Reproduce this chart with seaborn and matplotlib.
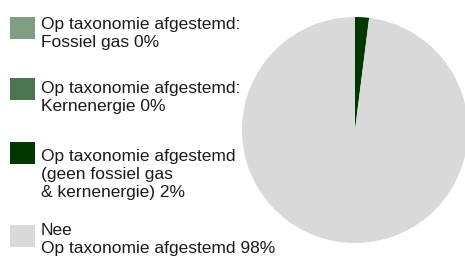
import matplotlib
matplotlib.use("Agg")
import matplotlib.pyplot as plt
from matplotlib.patches import Rectangle
import seaborn as sns

# ── Data ────────────────────────────────────────────────────────────────────
labels = [
    "Op taxonomie afgestemd:\nFossiel gas 0%",
    "Op taxonomie afgestemd:\nKernenergie 0%",
    "Op taxonomie afgestemd\n(geen fossiel gas\n& kernenergie) 2%",
    "Nee\nOp taxonomie afgestemd 98%",
]
shares = [0, 0, 2, 98]
colors = ["#7d9e80", "#4b7450", "#003800", "#d9d9d9"]

# ── Style ───────────────────────────────────────────────────────────────────
sns.set_theme(style="white")
plt.rcParams["font.family"] = ["Liberation Sans", "DejaVu Sans"]

W, H = 465, 260
fig = plt.figure(figsize=(W / 100, H / 100), dpi=100)
fig.patch.set_facecolor("white")

# --- Pie ---
ax = fig.add_axes([242 / W, 17 / H, 226 / W, 226 / H])
ax.pie(shares, colors=colors, startangle=90, counterclock=False,
       wedgeprops={"linewidth": 0, "edgecolor": "none"})
ax.set_xlim(-1, 1)
ax.set_ylim(-1, 1)
ax.set_aspect("equal")
ax.axis("off")

# --- Legend (manual, swatch + multi-line label) ---
# va='baseline' on multi-line text sits on the LAST line's baseline
last_baselines = [47.3, 111, 196.7, 253.3]   # px from top
swatch_tops = [17.3, 78.3, 142.3, 225]
for lab, col, yb, yt in zip(labels, colors, last_baselines, swatch_tops):
    fig.add_artist(Rectangle((10 / W, 1 - (yt + 22) / H), 25 / W, 22 / H,
                             transform=fig.transFigure, facecolor=col,
                             edgecolor="none"))
    fig.text(41 / W, 1 - yb / H, lab, fontsize=12.5, color="#1a1a1a",
             ha="left", va="baseline", linespacing=1.255)

plt.savefig("out.png", dpi=100, facecolor="white")
